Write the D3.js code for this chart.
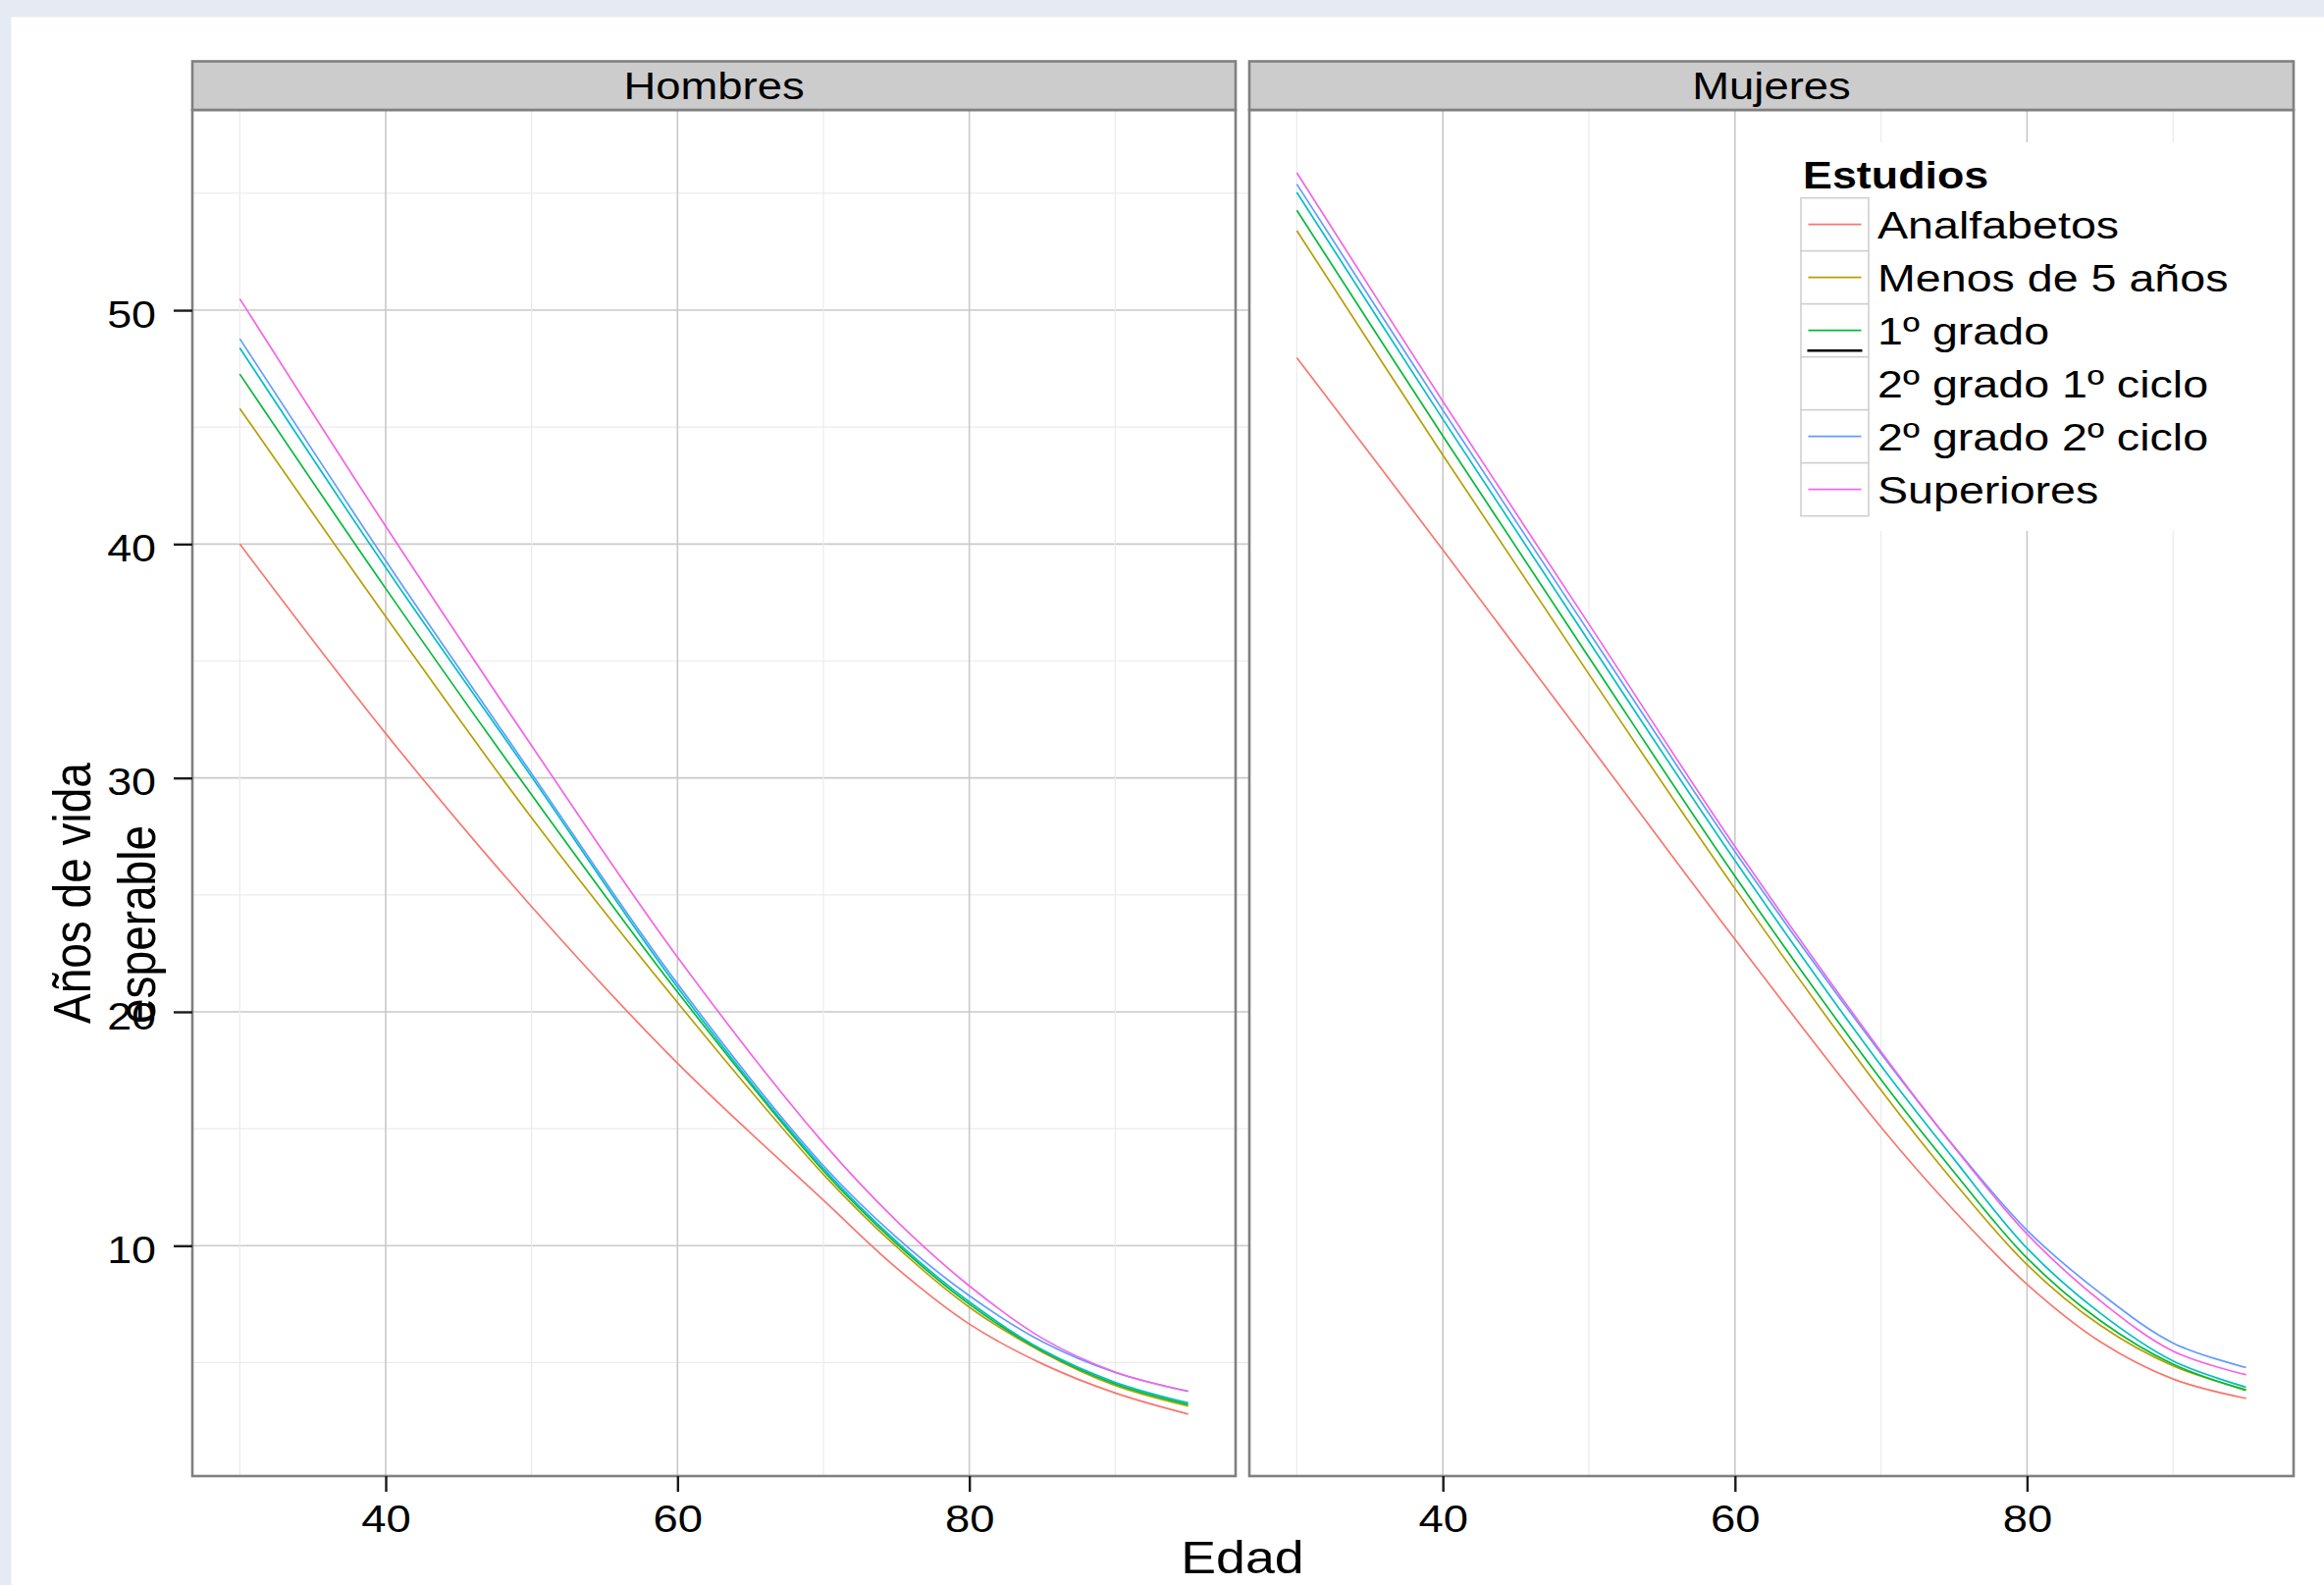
<!DOCTYPE html>
<html>
<head>
<meta charset="utf-8">
<script src="https://cdn.jsdelivr.net/npm/d3@7"></script>
<style>
  html, body { margin: 0; padding: 0; background: #ffffff; }
  svg { display: block; }
  text { font-family: "Liberation Sans", Arial, Helvetica, sans-serif; fill: #000; }
</style>
</head>
<body>
<svg id="chart" width="2368" height="1615"></svg>
<script>
// ---------------- DATA ----------------
const panels = ["Hombres", "Mujeres"];
const estudios = ["Analfabetos", "Menos de 5 años", "1º grado", "2º grado 1º ciclo", "2º grado 2º ciclo", "Superiores"];
const colors = ["#F8766D", "#B79F00", "#00BA38", "#00BFC4", "#619CFF", "#F564E3"];
const ages = [30, 40, 50, 60, 70, 75, 80, 85, 90, 95];

// Años de vida esperable, Hombres (one array per nivel de estudios)
const hombresAnalfabetos = [40.0, 31.9, 24.5, 17.8, 11.95, 9.05, 6.65, 4.95, 3.70, 2.80];
const hombresMenos5      = [45.8, 36.9, 28.3, 20.4, 13.05, 9.96, 7.37, 5.45, 4.02, 3.14];
const hombresPrimer      = [47.27, 38.1, 29.28, 20.85, 13.2, 10.09, 7.50, 5.50, 4.09, 3.21];
const hombresSeg1        = [48.39, 39.0, 30.05, 21.05, 13.3, 10.18, 7.60, 5.55, 4.16, 3.28];
const hombresSeg2        = [48.78, 39.29, 30.19, 21.2, 13.42, 10.36, 7.86, 5.90, 4.58, 3.78];
const hombresSuperiores  = [50.49, 40.76, 31.38, 22.34, 14.39, 11.07, 8.28, 6.04, 4.60, 3.77];

// Mujeres
const mujeresAnalfabetos = [47.97, 39.75, 31.43, 23.1, 15.07, 11.5, 8.35, 5.9, 4.30, 3.47];
const mujeresMenos5      = [53.4, 43.8, 34.44, 25.27, 16.65, 12.72, 9.19, 6.6, 4.86, 3.85];
const mujeresPrimer      = [54.27, 44.62, 35.16, 25.8, 17.1, 13.15, 9.47, 6.8, 4.93, 3.81];
const mujeresSeg1        = [55.04, 45.34, 35.84, 26.47, 17.7, 13.7, 9.89, 7.12, 5.07, 3.95];
const mujeresSeg2        = [55.39, 45.72, 36.24, 26.85, 18.22, 14.25, 10.66, 7.98, 5.84, 4.79];
const mujeresSuperiores  = [55.88, 46.10, 36.58, 27.07, 18.30, 14.22, 10.5, 7.65, 5.49, 4.48];

const hombres = [hombresAnalfabetos, hombresMenos5, hombresPrimer, hombresSeg1, hombresSeg2, hombresSuperiores];
const mujeres = [mujeresAnalfabetos, mujeresMenos5, mujeresPrimer, mujeresSeg1, mujeresSeg2, mujeresSuperiores];
const panelData = [hombres, mujeres];

const xTicks = [40, 60, 80];
const xMinor = [30, 50, 70, 90];
const yTicks = [10, 20, 30, 40, 50];
const yMinor = [5, 15, 25, 35, 45, 55];
const legendKeyShown = [true, true, true, false, true, true];

// ---------------- LAYOUT ----------------
const SX = 1.18; // horizontal stretch of the original rendering
const svg = d3.select("#chart");
const W = 2368, H = 1615;
const panelTop = 112, panelBottom = 1504, stripTop = 62.5;
const panelX = [[196, 1259], [1273, 2337]];

svg.append("rect").attr("x", 0).attr("y", 0).attr("width", W).attr("height", H).attr("fill", "#E6EBF3");
svg.append("rect").attr("x", 11.5).attr("y", 17.5).attr("width", W - 11.5).attr("height", H - 17.5).attr("fill", "#ffffff");

const y = d3.scaleLinear().domain([0.15, 58.5]).range([panelBottom, 113.5]);
const xScales = panelX.map(r => d3.scaleLinear().domain([26.75, 98.25]).range(r));

// horizontal gridlines of left panel (extend into the gap)
const gH = svg.append("g");
gH.selectAll("line.minor").data(yMinor).join("line")
  .attr("x1", panelX[0][0]).attr("x2", panelX[1][0])
  .attr("y1", d => y(d)).attr("y2", d => y(d))
  .attr("stroke", "#EBEBEB").attr("stroke-width", 1.2);
gH.selectAll("line.major").data(yTicks).join("line")
  .attr("x1", panelX[0][0]).attr("x2", panelX[1][0])
  .attr("y1", d => y(d)).attr("y2", d => y(d))
  .attr("stroke", "#C9C9C9").attr("stroke-width", 1.6);

const line = d3.line().curve(d3.curveCatmullRom.alpha(0.5));

panels.forEach((name, p) => {
  const x = xScales[p];
  const [x0, x1] = panelX[p];
  const g = svg.append("g");
  // vertical gridlines
  g.selectAll("line.vminor").data(xMinor).join("line")
    .attr("x1", d => x(d)).attr("x2", d => x(d))
    .attr("y1", panelTop).attr("y2", panelBottom)
    .attr("stroke", "#EBEBEB").attr("stroke-width", 1.2);
  g.selectAll("line.vmajor").data(xTicks).join("line")
    .attr("x1", d => x(d)).attr("x2", d => x(d))
    .attr("y1", panelTop).attr("y2", panelBottom)
    .attr("stroke", "#C9C9C9").attr("stroke-width", 1.6);

  if (p === 1) {
    // legend background covers the grid
    g.append("rect").attr("x", 1822).attr("y", 145).attr("width", 466).attr("height", 396).attr("fill", "#fff");
  }

  // series lines
  panelData[p].forEach((vals, i) => {
    g.append("path")
      .attr("d", line(ages.map((a, k) => [x(a), y(vals[k])])))
      .attr("fill", "none").attr("stroke", colors[i]).attr("stroke-width", 1.7);
  });

  // panel border
  g.append("rect").attr("x", x0).attr("y", panelTop).attr("width", x1 - x0).attr("height", panelBottom - panelTop)
    .attr("fill", "none").attr("stroke", "#808080").attr("stroke-width", 2.6);
  // strip
  g.append("rect").attr("x", x0).attr("y", stripTop).attr("width", x1 - x0).attr("height", panelTop - stripTop)
    .attr("fill", "#CCCCCC").attr("stroke", "#808080").attr("stroke-width", 2.6);
  g.append("text").attr("transform", `translate(${(x0 + x1) / 2},101) scale(${SX},1)`)
    .attr("text-anchor", "middle").attr("font-size", 38.5).text(name);

  // x axis
  const ax = svg.append("g").attr("transform", `translate(0,${panelBottom})`)
    .call(d3.axisBottom(x).tickValues(xTicks).tickSize(16).tickFormat(d3.format("d")));
  ax.select(".domain").remove();
  ax.selectAll(".tick line").attr("stroke", "#1a1a1a").attr("stroke-width", 2.4);
  ax.selectAll(".tick text").attr("y", 0).attr("dy", null)
    .attr("transform", `translate(0,57) scale(${SX},1)`)
    .attr("font-size", 38.5).attr("fill", "#000")
    .style("font-family", '"Liberation Sans", Arial, sans-serif');
});

// y axis
const ay = svg.append("g").attr("transform", `translate(${panelX[0][0]},0)`)
  .call(d3.axisLeft(y).tickValues(yTicks).tickSize(19).tickFormat(d3.format("d")));
ay.select(".domain").remove();
ay.selectAll(".tick line").attr("stroke", "#1a1a1a").attr("stroke-width", 2.4);
ay.selectAll(".tick text").attr("x", 0).attr("dy", "0.45em")
  .attr("transform", `translate(-37,0) scale(${SX},1)`)
  .attr("font-size", 38).attr("fill", "#000")
  .style("font-family", '"Liberation Sans", Arial, sans-serif');

// axis titles
svg.append("text").attr("transform", `translate(1266,1603) scale(${SX},1)`)
  .attr("text-anchor", "middle").attr("font-size", 45.5).text("Edad");
svg.append("text").attr("transform", `translate(92,1043) scale(${SX},1) rotate(-90)`)
  .attr("text-anchor", "start").attr("font-size", 46).text("Años de vida");
svg.append("text").attr("transform", `translate(158,1043) scale(${SX},1) rotate(-90)`)
  .attr("text-anchor", "start").attr("font-size", 46).text("esperable");

// legend
const lg = svg.append("g");
const lx = 1835, ly = 201.7, rowH = 54, keyW = 69;
lg.append("text").attr("transform", `translate(1837,191.5) scale(${SX},1)`)
  .attr("font-size", 38).attr("font-weight", "bold").text("Estudios");
estudios.forEach((lab, i) => {
  const ry = ly + i * rowH;
  lg.append("rect").attr("x", lx).attr("y", ry).attr("width", keyW).attr("height", rowH)
    .attr("fill", "#fff").attr("stroke", "#D0D0D0").attr("stroke-width", 1.6);
  if (legendKeyShown[i]) {
    lg.append("line").attr("x1", lx + 7.5).attr("x2", lx + 61.5)
      .attr("y1", ry + rowH / 2).attr("y2", ry + rowH / 2)
      .attr("stroke", colors[i]).attr("stroke-width", 1.7);
  }
  if (i === 2) {
    lg.append("line").attr("x1", lx + 6.5).attr("x2", lx + 62.5)
      .attr("y1", ry + 47.5).attr("y2", ry + 47.5)
      .attr("stroke", "#000").attr("stroke-width", 2.6);
  }
  lg.append("text").attr("transform", `translate(1913,${ry + rowH / 2 + 14}) scale(${SX},1)`)
    .attr("font-size", 39.5).text(lab);
});
</script>
</body>
</html>
